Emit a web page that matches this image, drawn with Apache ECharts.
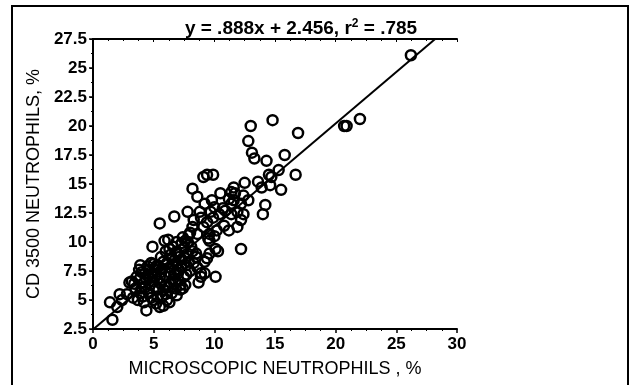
<!DOCTYPE html>
<html>
<head>
<meta charset="utf-8">
<script src="https://cdn.jsdelivr.net/npm/echarts@6/dist/echarts.min.js"></script>
<style>
  html, body { margin: 0; padding: 0; background: #fff; }
  #chart { width: 633px; height: 385px; }
</style>
</head>
<body>
<div id="chart"></div>
<script>
// regression
var slope = 0.888;
var intercept = 2.456;
var lineX = [0, 28.2];

var xRange = [0, 30];
var yRange = [2.5, 27.5];

// microscopic (x) vs CD 3500 (y)
var upperPoints = [
  [26.2,26.1],[14.8,20.5],[13.0,20.0],[20.7,20.0],[20.9,20.0],[22.0,20.6],[16.9,19.4],
  [12.8,18.7],[13.1,17.7],[13.3,17.2],[14.3,17.0],[15.8,17.5],[15.3,16.2],[14.5,15.8],
  [14.7,15.6],[16.7,15.8],[14.6,14.9],[15.5,14.5],[13.6,15.2],[12.5,15.1],[14.2,13.2],
  [14.0,12.4],[12.8,13.6],[12.4,12.4],[12.2,9.4],[11.9,11.3],[12.4,14.0],[13.9,14.7],
  [9.1,15.6],[9.4,15.8],[9.9,15.8],[8.2,14.6],[8.6,13.9],[7.8,12.6],[6.7,12.2],[5.5,11.6]
];

var midPoints = [
  [9.2,13.3],[9.8,13.6],[10.5,14.2],[10.0,13.0],[10.4,12.4],[10.9,12.7],[11.4,13.3],
  [11.7,14.2],[11.6,14.7],[11.2,13.7],[12.2,13.3],[11.9,12.6],[11.4,12.4],[10.8,11.4],
  [11.2,11.0],[9.9,12.1],[9.4,11.7],[9.1,11.3],[9.6,10.7],[10.2,11.0],[8.9,12.1],
  [8.3,11.9],[8.2,11.3],[8.6,10.7],[7.9,10.6],[7.6,10.1],[9.6,10.1],[8.8,12.6],
  [9.7,12.6],[10.7,12.9],[12.2,11.9],[11.6,13.6],[11.4,14.3],[10.1,9.4],[10.3,9.2],
  [8.6,7.8],[8.7,6.5],[9.2,8.3],[9.4,8.6],[9.6,9.0],[8.9,7.3],[8.5,8.7],[9.2,7.3],
  [8.9,7.0],[10.1,7.0],[9.5,10.3],[10.0,10.5]
];

var lowerPoints = [
  [4.9,9.6],[1.6,3.3],[1.4,4.8],[2.0,4.4],[2.2,5.5],[4.4,4.1],[5.5,4.4],[6.3,4.8],
  [3.2,6.6],[3.4,6.4],[3.6,7.0],[3.8,7.6],[3.9,8.0],[4.0,6.0],[4.1,5.3],[4.2,4.8],
  [4.3,7.3],[4.4,6.8],[4.5,7.9],[4.6,5.6],[4.7,6.3],[4.8,8.2],[4.9,7.1],[5.0,5.0],
  [5.0,6.6],[5.1,7.6],[5.2,4.7],[5.3,8.0],[5.4,5.9],[5.5,6.9],[5.6,7.4],[5.7,5.3],
  [5.8,8.3],[5.9,6.2],[6.0,7.0],[6.0,9.2],[6.1,5.0],[6.2,10.2],[6.3,7.8],[6.4,6.5],
  [6.5,8.6],[6.5,5.6],[6.6,9.6],[6.7,7.2],[6.8,6.0],[6.9,8.1],[7.0,9.0],[7.0,6.8],
  [7.1,7.6],[7.2,5.9],[7.3,8.5],[7.4,10.4],[7.5,7.0],[7.5,9.5],[7.6,6.3],[7.7,8.0],
  [7.8,9.0],[8.0,7.5],[8.1,9.6],[8.3,8.2],[8.5,9.0],[5.8,4.5],[4.8,5.2],[3.7,5.0],
  [3.3,5.2],[2.8,5.5],[2.4,5.0],[5.2,6.0],[4.6,7.6],[6.8,6.6],[7.2,6.3],[6.2,6.1],
  [5.6,6.4],[4.2,6.5],[3.9,6.9],[7.8,10.0],[8.0,10.8],[6.9,10.0],[5.9,10.1],[6.4,8.9],
  [7.1,8.7],[6.6,7.9],[5.4,7.9],[4.0,7.4],[6.0,5.5],[6.9,5.4],[7.4,6.0],[5.3,5.3],
  [3.0,6.5],[3.5,6.0],[3.9,5.6],[4.3,6.1],[4.7,6.9],[5.1,7.0],[5.7,7.7],[6.1,8.2],
  [6.4,7.3],[6.7,8.4],[7.0,7.3],[7.3,7.9],[7.6,8.6],[7.9,8.3],[8.2,9.2],[6.3,9.4],
  [5.6,8.7],[6.8,9.1],[7.3,9.9],[5.0,8.1],[4.5,7.1],[5.8,5.9],[6.6,6.8],[7.7,7.2]
];

var points = upperPoints.concat(midPoints, lowerPoints);
var fitLine = lineX.map(function (x) { return [x, slope * x + intercept]; });

var chart = echarts.init(document.getElementById('chart'));
var font = 'Liberation Sans, Arial, sans-serif';

chart.setOption({
  animation: false,
  backgroundColor: '#fff',
  title: {
    text: '{a|y = .888x + 2.456, r}{s|2}{a| = .785}',
    left: 296,
    top: 13,
    textAlign: 'center',
    textStyle: {
      rich: {
        a: { fontSize: 19, fontWeight: 'bold', color: '#000', fontFamily: font, lineHeight: 22 },
        s: { fontSize: 12, fontWeight: 'bold', color: '#000', fontFamily: font, padding: [0, 0, 10, 0] }
      }
    }
  },
  graphic: [{
    type: 'rect',
    shape: { x: 12, y: 6, width: 616, height: 400 },
    style: { fill: 'none', stroke: '#000', lineWidth: 2 },
    silent: true
  }],
  grid: { left: 93, right: 176, top: 39, bottom: 56 },
  xAxis: [{
    type: 'value',
    min: xRange[0], max: xRange[1], interval: 5,
    name: 'MICROSCOPIC NEUTROPHILS , %',
    nameLocation: 'middle',
    nameGap: 31,
    nameTextStyle: { fontSize: 18, color: '#000', fontFamily: font },
    axisLine: { lineStyle: { color: '#000', width: 2 } },
    axisTick: { length: 4, lineStyle: { color: '#000', width: 1.5 } },
    minorTick: { show: true, splitNumber: 4, length: 2, lineStyle: { color: '#000' } },
    axisLabel: { fontSize: 17, fontWeight: 'bold', color: '#000', fontFamily: font, margin: 7 },
    splitLine: { show: false }
  }, {
    type: 'value', position: 'top',
    min: xRange[0], max: xRange[1], interval: 5,
    axisLine: { lineStyle: { color: '#000', width: 2 } },
    axisTick: { inside: true, length: 3, lineStyle: { color: '#000' } },
    minorTick: { show: true, splitNumber: 4, length: 2, lineStyle: { color: '#000' } },
    axisLabel: { show: false },
    splitLine: { show: false }
  }],
  yAxis: [{
    type: 'value',
    min: yRange[0], max: yRange[1], interval: 2.5,
    name: 'CD 3500 NEUTROPHILS, %',
    nameLocation: 'middle',
    nameGap: 50,
    nameTextStyle: { fontSize: 18, color: '#000', fontFamily: font },
    axisLine: { lineStyle: { color: '#000', width: 2 } },
    axisTick: { length: 4, lineStyle: { color: '#000', width: 1.5 } },
    minorTick: { show: true, splitNumber: 2, length: 2, lineStyle: { color: '#000' } },
    axisLabel: { fontSize: 17, fontWeight: 'bold', color: '#000', fontFamily: font, margin: 6 },
    splitLine: { show: false }
  }, {
    type: 'value', position: 'right',
    min: yRange[0], max: yRange[1], interval: 2.5,
    axisLine: { lineStyle: { color: '#000', width: 2 } },
    axisTick: { inside: true, length: 3, lineStyle: { color: '#000' } },
    minorTick: { show: true, splitNumber: 2, length: 2, lineStyle: { color: '#000' } },
    axisLabel: { show: false },
    splitLine: { show: false }
  }],
  series: [{
    type: 'line',
    data: fitLine,
    symbol: 'none',
    lineStyle: { color: '#000', width: 2 },
    z: 1
  }, {
    type: 'scatter',
    data: points,
    symbol: 'circle',
    symbolSize: 10,
    itemStyle: { color: 'rgba(255,255,255,0)', borderColor: '#000', borderWidth: 2.5, opacity: 1 },
    z: 2
  }]
});
</script>
</body>
</html>
